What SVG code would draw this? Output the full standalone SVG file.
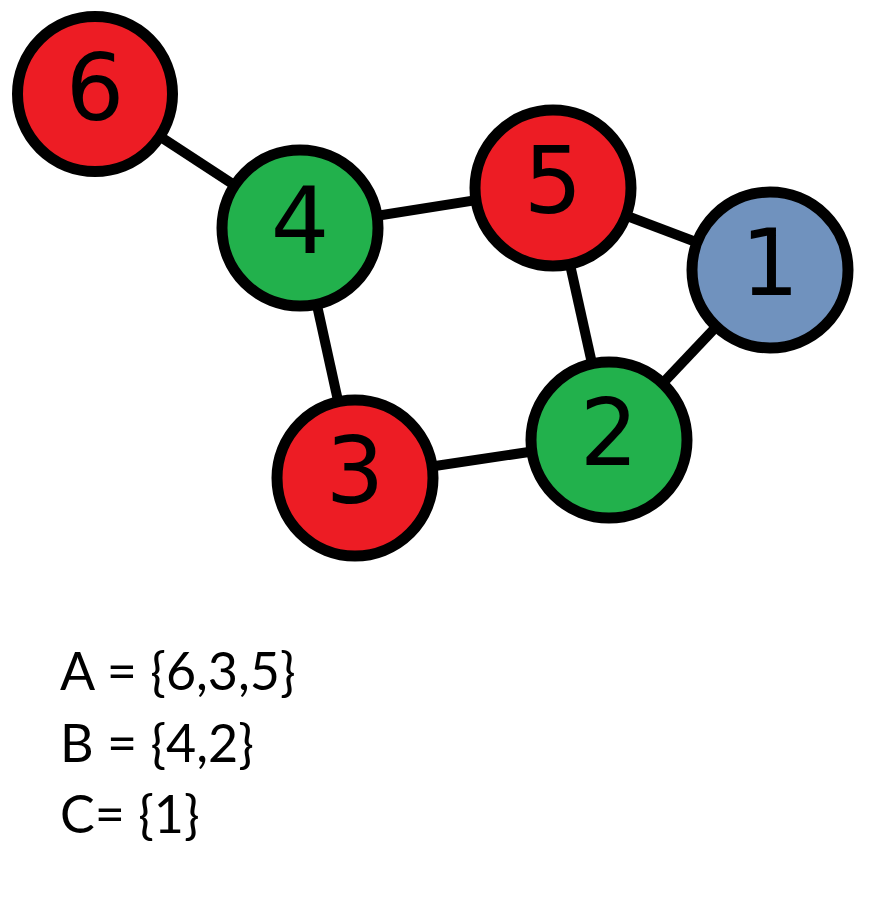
<svg xmlns="http://www.w3.org/2000/svg" width="874" height="900" viewBox="0 0 874 900">
<style>
.n{stroke:#000;stroke-width:11}
.r{fill:#ED1C24}.g{fill:#22B14C}.b{fill:#7092BE}
.t{font-family:"DejaVu Sans",sans-serif;font-size:92px;text-anchor:middle;fill:#000}
.s{font-family:Lato,"Open Sans",sans-serif;font-size:52px;fill:#000}
#edges line{stroke:#000;stroke-width:10}
</style>
<rect width="874" height="900" fill="#fff"/>
<g id="edges">
<line x1="95" y1="94" x2="300" y2="228"/>
<line x1="300" y1="228" x2="553" y2="188"/>
<line x1="553" y1="188" x2="770" y2="270"/>
<line x1="553" y1="188" x2="609" y2="440"/>
<line x1="770" y1="270" x2="609" y2="440"/>
<line x1="300" y1="228" x2="355" y2="478"/>
<line x1="355" y1="478" x2="609" y2="440"/>
</g>
<g id="node6"><circle class="n r" cx="95" cy="94" r="77.5"/><text class="t" x="95" y="120">6</text></g>
<g id="node4"><circle class="n g" cx="300" cy="228" r="78"/><text class="t" x="300" y="253">4</text></g>
<g id="node5"><circle class="n r" cx="553" cy="188" r="78"/><text class="t" x="553" y="213">5</text></g>
<g id="node1"><circle class="n b" cx="770" cy="270" r="78"/><text class="t" x="770" y="295">1</text></g>
<g id="node2"><circle class="n g" cx="609" cy="440" r="78"/><text class="t" x="609" y="465">2</text></g>
<g id="node3"><circle class="n r" cx="355" cy="478" r="78"/><text class="t" x="355" y="503">3</text></g>
<g id="legend">
<text class="s" x="60" y="690">A = {6,3,5}</text>
<text class="s" x="60" y="762">B = {4,2}</text>
<text class="s" x="60" y="833">C= {1}</text>
</g>
</svg>
